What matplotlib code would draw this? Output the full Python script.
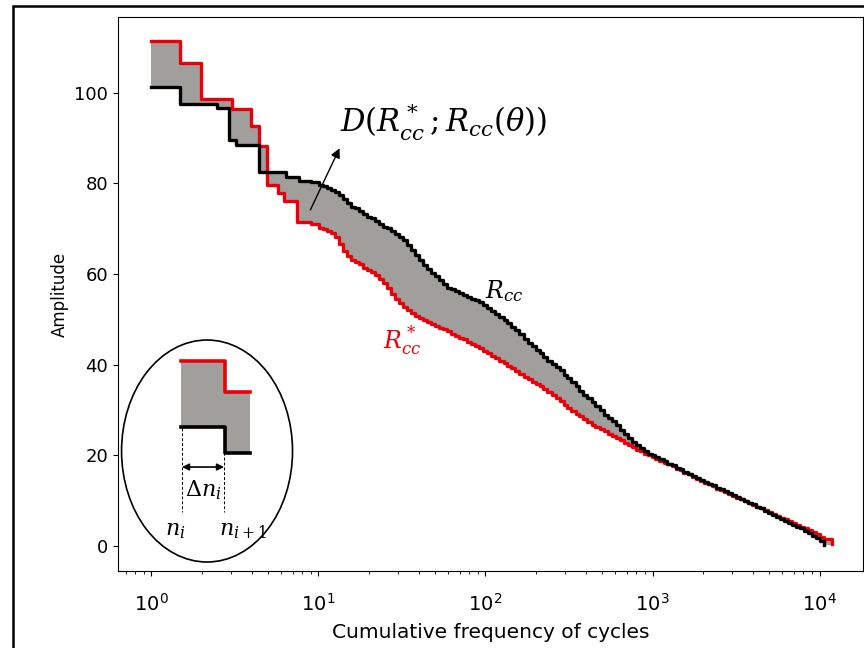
import matplotlib
matplotlib.use("Agg")
import matplotlib.pyplot as plt
from matplotlib.patches import Ellipse, Rectangle

# cumulative frequency of cycles (shared x for both curves)
cycles = [1.00, 1.49, 1.99, 2.48, 2.93, 3.05, 3.23, 3.97, 4.43, 4.95, 5.76, 6.2,
          6.43, 7.48, 7.69, 9.0,
          10.14, 10.71, 11.32, 11.96, 12.64, 13.36, 14.12, 14.92, 15.76, 16.66,
          17.60, 18.60, 19.65, 20.77, 21.94, 23.19, 24.50, 25.89, 27.36, 28.91,
          30.55, 32.28, 34.12, 36.05, 38.09, 40.25, 42.53, 44.95, 47.50, 50.19,
          53.04, 56.04, 59.23, 62.58, 66.13, 69.88, 73.84, 78.03, 82.45, 87.13,
          92.07, 97.28, 102.8, 108.6, 114.8, 121.3, 128.2, 135.4, 143.1, 151.2,
          159.8, 168.9, 178.5, 188.6, 199.3, 210.6, 222.5, 235.1, 248.5, 262.6,
          277.5, 293.2, 309.7, 327.3, 345.9, 365.5, 386.2, 408.1, 431.3, 455.7,
          481.6, 508.9, 537.7, 568.2, 600.4, 634.5, 670.4, 708.5, 748.7, 791.1,
          835.9, 883.4, 933.4, 986.3, 1042, 1101, 1164, 1229, 1300, 1373,
          1451, 1533, 1620, 1712, 1809, 1912, 2020, 2135, 2256, 2384,
          2519, 2662, 2812, 2972, 3141, 3319, 3507, 3706, 3916, 4138,
          4372, 4620, 4882, 5159, 5451, 5760, 6087, 6432, 6797, 7182,
          7590, 8020, 8474, 8955, 9463, 10000, 10570, 11800]

# R_cc (black)
r_cc = [101.3, 97.4, 97.4, 96.7, 89.6, 89.6, 88.5, 88.5, 82.4, 82.4, 82.4, 82.4,
        81.3, 81.3, 80.6, 80.2,
        79.6, 79.4, 79.0, 78.6, 78.2, 77.4, 76.5, 75.6, 74.8, 74.5,
        74.0, 73.2, 72.6, 72.3, 71.8, 71.0, 70.4, 70.1, 69.6, 68.9,
        68.2, 67.4, 66.4, 65.3, 64.2, 63.1, 62.0, 61.1, 60.2, 59.5,
        58.6, 57.7, 57.0, 56.7, 56.2, 55.8, 55.4, 55.0, 54.6, 54.3,
        53.8, 53.1, 52.6, 51.8, 51.2, 50.5, 49.8, 49.2, 48.4, 47.6,
        46.8, 45.7, 44.8, 44.1, 43.2, 42.6, 41.8, 40.9, 40.2, 39.6,
        38.8, 37.8, 37.0, 36.2, 35.2, 34.2, 33.4, 32.7, 31.8, 30.8,
        30.0, 29.0, 28.2, 27.5, 26.6, 25.6, 24.8, 23.8, 23.0, 22.3,
        21.6, 20.9, 20.4, 20.0, 19.6, 19.1, 18.7, 18.2, 17.8, 17.3,
        16.9, 16.4, 16.0, 15.5, 15.1, 14.6, 14.2, 13.8, 13.4, 12.9,
        12.5, 12.1, 11.7, 11.2, 10.8, 10.4, 10.0, 9.6, 9.2, 8.7,
        8.3, 7.8, 7.4, 6.9, 6.5, 6.0, 5.6, 5.1, 4.7, 4.3,
        3.9, 3.4, 2.9, 2.3, 1.7, 1.1, 0.3, 0.3]

# R*_cc (red)
r_cc_star = [111.3, 106.6, 98.5, 98.5, 98.5, 96.5, 96.5, 92.6, 88.2, 79.6, 77.8, 76.2,
             76.2, 71.4, 71.4, 71.0,
             70.2, 69.9, 69.4, 69.0, 68.2, 66.6, 65.0, 64.0, 63.0, 62.7,
             62.2, 61.4, 60.8, 60.4, 59.8, 58.8, 58.0, 56.9, 55.6, 54.5,
             53.6, 52.7, 52.0, 51.3, 50.8, 50.3, 49.8, 49.4, 49.0, 48.6,
             48.2, 47.8, 47.4, 46.8, 46.4, 46.0, 45.6, 45.0, 44.6, 44.1,
             43.6, 43.1, 42.6, 41.9, 41.4, 40.9, 40.4, 39.8, 39.2, 38.6,
             38.0, 37.4, 36.8, 36.3, 35.8, 35.2, 34.6, 34.0, 33.4, 32.7,
             32.0, 31.2, 30.4, 29.8, 29.2, 28.6, 28.0, 27.4, 26.8, 26.3,
             25.8, 25.3, 24.8, 24.3, 23.8, 23.3, 22.8, 22.3, 21.8, 21.3,
             20.9, 20.4, 20.0, 19.6, 19.2, 18.8, 18.4, 18.0, 17.6, 17.1,
             16.7, 16.2, 15.8, 15.3, 14.9, 14.4, 14.0, 13.6, 13.2, 12.7,
             12.3, 11.9, 11.5, 11.1, 10.7, 10.3, 9.9, 9.5, 9.1, 8.7,
             8.3, 7.9, 7.5, 7.1, 6.7, 6.3, 5.9, 5.5, 5.1, 4.7,
             4.3, 3.9, 3.5, 3.0, 2.6, 2.1, 1.6, 0.5]

plt.rcParams['mathtext.fontset'] = 'dejavuserif'
plt.rcParams['font.size'] = 13

RED = '#e8000b'
GREY = '#a09f9b'

fig = plt.figure(figsize=(8.64, 6.48), dpi=100)
ax = fig.add_axes([0.1366, 0.1188, 0.8622, 0.855])

ax.fill_between(cycles, r_cc_star, r_cc, step='post', color=GREY, lw=0)
ax.plot(cycles, r_cc_star, drawstyle='steps-post', color=RED, lw=2.4)
ax.plot(cycles[:-1], r_cc[:-1], drawstyle='steps-post', color='black', lw=2.4)

ax.set_xscale('log')
ax.set_xlim(10 ** -0.2, 10 ** 4.26)
ax.set_ylim(-5.5, 116.7)
ax.set_yticks([0, 20, 40, 60, 80, 100])
ax.tick_params(axis='x', labelsize=14, pad=12)
ax.set_xlabel("Cumulative frequency of cycles", fontsize=14.5, labelpad=6)
ax.set_ylabel("Amplitude", fontsize=12)

# annotations
ax.annotate("", xy=(13.6, 88.3), xytext=(8.8, 73.6),
            arrowprops=dict(arrowstyle='-|>', color='black', lw=1,
                            mutation_scale=14))
ax.text(13.4, 93.4, r'$D(R^*_{cc}\,;R_{cc}(\theta))$', fontsize=22,
        va='center', ha='left')
ax.text(100, 56.2, r'$R_{cc}$', fontsize=17, va='center', ha='left')
ax.text(24.5, 45.4, r'$R^*_{cc}$', fontsize=17, va='center', ha='left',
        color=RED)

# inset sketch of one step (axes fraction)
tr = ax.transAxes
ax.add_patch(Ellipse((0.1195, 0.2166), 0.2295, 0.4007, transform=tr,
                     fill=False, ec='black', lw=1.2))
ax.fill_between([0.0846, 0.1436], 0.260, 0.379, transform=tr, color=GREY, lw=0)
ax.fill_between([0.1436, 0.1772], 0.213, 0.323, transform=tr, color=GREY, lw=0)
ax.plot([0.0846, 0.1436, 0.1436, 0.1772], [0.379, 0.379, 0.323, 0.323],
        transform=tr, color=RED, lw=2.6)
ax.plot([0.0846, 0.1436, 0.1436, 0.1772], [0.260, 0.260, 0.213, 0.213],
        transform=tr, color='black', lw=2.6)
for xv in [0.0859, 0.1423]:
    ax.plot([xv, xv], [0.258, 0.1065], transform=tr, color='black', lw=0.7,
            ls=(0, (3, 2)))
ax.annotate("", xy=(0.0859, 0.1877), xytext=(0.1423, 0.1877),
            xycoords=tr, textcoords=tr,
            arrowprops=dict(arrowstyle='<|-|>', color='black', lw=1.2,
                            mutation_scale=10, shrinkA=0, shrinkB=0))
ax.text(0.114, 0.146, r'$\Delta n_i$', transform=tr, fontsize=16,
        ha='center', va='center')
ax.text(0.0765, 0.072, r'$n_i$', transform=tr, fontsize=16,
        ha='center', va='center')
ax.text(0.168, 0.072, r'$n_{i+1}$', transform=tr, fontsize=16,
        ha='center', va='center')

# outer frame of the picture
fig.patches.append(Rectangle((0.0145, -0.05), 1.2, 1.0407, transform=fig.transFigure,
                             fill=False, ec='black', lw=1.8))

fig.savefig("out.png", dpi=100)
